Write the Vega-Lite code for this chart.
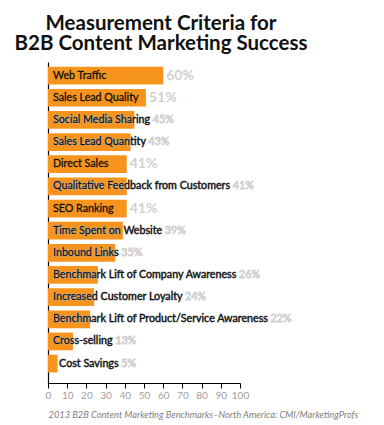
{
  "$schema": "https://vega.github.io/schema/vega-lite/v6.json",
  "width": 192,
  "height": 321,
  "autosize": "none",
  "padding": {"left": 48, "top": 62, "right": 144, "bottom": 42},
  "background": "white",
  "title": {
    "text": ["Measurement Criteria for", "B2B Content Marketing Success"],
    "font": "Lato",
    "fontSize": 20.5,
    "fontWeight": "bold",
    "color": "#111111",
    "anchor": "middle",
    "frame": "group",
    "dx": 17,
    "offset": 8,
    "lineHeight": 20
  },
  "config": {
    "view": {"stroke": null},
    "axisX": {
      "labelOverlap": false,
      "labelFlush": false,
      "labelBound": false,
      "grid": false,
      "domainColor": "#000000",
      "domainWidth": 1.2,
      "tickColor": "#000000",
      "tickSize": 5,
      "labelColor": "#A0A0A0",
      "labelFont": "Lato",
      "labelFontSize": 10,
      "labelPadding": 2,
      "titleFont": "Lato",
      "titleFontSize": 9.3,
      "titleFontStyle": "italic",
      "titleFontWeight": "normal",
      "titleColor": "#808080",
      "titleAnchor": "start",
      "titleAlign": "left",
      "titleBaseline": "alphabetic",
      "titleX": 0,
      "titleY": 34
    }
  },
  "data": {
    "values": [
      {"label": "Web Traffic", "value": 60},
      {"label": "Sales Lead Quality", "value": 51},
      {"label": "Social Media Sharing", "value": 45},
      {"label": "Sales Lead Quantity", "value": 43},
      {"label": "Direct Sales", "value": 41},
      {"label": "Qualitative Feedback from Customers", "value": 41},
      {"label": "SEO Ranking", "value": 41},
      {"label": "Time Spent on Website", "value": 39},
      {"label": "Inbound Links", "value": 35},
      {"label": "Benchmark Lift of Company Awareness", "value": 26},
      {"label": "Increased Customer Loyalty", "value": 24},
      {"label": "Benchmark Lift of Product/Service Awareness", "value": 22},
      {"label": "Cross-selling", "value": 13},
      {"label": "Cost Savings", "value": 5}
    ]
  },
  "transform": [
    {"calculate": "datum.value + '%'", "as": "pct"},
    {"calculate": "datum.label + '  ' + datum.pct", "as": "combo"}
  ],
  "encoding": {
    "y": {
      "field": "label",
      "type": "nominal",
      "sort": null,
      "scale": {"paddingInner": 0.2, "paddingOuter": 0.345, "align": 0.31},
      "axis": {"labels": false, "ticks": false, "title": null, "domainColor": "#000000", "domainWidth": 1.2}
    }
  },
  "layer": [
    {
      "mark": {"type": "bar", "color": "#F7941D"},
      "encoding": {
        "x": {
          "field": "value",
          "type": "quantitative",
          "scale": {"domain": [0, 100], "nice": false},
          "axis": {"values": [0, 10, 20, 30, 40, 50, 60, 70, 80, 90, 100], "tickCount": 11, "labelOverlap": false, "title": "2013 B2B Content Marketing Benchmarks\u2013North America: CMI/MarketingProfs"}
        }
      }
    },
    {
      "transform": [{"filter": {"field": "label", "oneOf": ["Social Media Sharing", "Sales Lead Quantity", "Qualitative Feedback from Customers", "Time Spent on Website", "Inbound Links", "Benchmark Lift of Company Awareness", "Increased Customer Loyalty", "Benchmark Lift of Product/Service Awareness", "Cross-selling"]}}],
      "mark": {"type": "text", "align": "left", "dx": 5, "font": "Lato", "fontSize": 10.7, "color": "#D0D0D0", "stroke": "#D0D0D0", "strokeWidth": 0.8},
      "encoding": {"x": {"datum": 0, "type": "quantitative", "axis": {"values": [0, 10, 20, 30, 40, 50, 60, 70, 80, 90, 100], "tickCount": 11, "labelOverlap": false, "title": "2013 B2B Content Marketing Benchmarks\u2013North America: CMI/MarketingProfs"}}, "text": {"field": "combo"}}
    },
    {
      "transform": [{"filter": {"field": "label", "equal": "Cost Savings"}}],
      "mark": {"type": "text", "align": "left", "dx": 1.5, "font": "Lato", "fontSize": 10.7, "color": "#D0D0D0", "stroke": "#D0D0D0", "strokeWidth": 0.8},
      "encoding": {"x": {"field": "value", "type": "quantitative", "axis": {"values": [0, 10, 20, 30, 40, 50, 60, 70, 80, 90, 100], "tickCount": 11, "labelOverlap": false, "title": "2013 B2B Content Marketing Benchmarks\u2013North America: CMI/MarketingProfs"}}, "text": {"field": "combo"}}
    },
    {
      "transform": [{"filter": "datum.label != 'Cost Savings'"}],
      "mark": {"type": "text", "align": "left", "dx": 5, "font": "Lato", "fontSize": 10.7, "color": "#111111", "stroke": "#111111", "strokeWidth": 0.3},
      "encoding": {"x": {"datum": 0, "type": "quantitative", "axis": {"values": [0, 10, 20, 30, 40, 50, 60, 70, 80, 90, 100], "tickCount": 11, "labelOverlap": false, "title": "2013 B2B Content Marketing Benchmarks\u2013North America: CMI/MarketingProfs"}}, "text": {"field": "label"}}
    },
    {
      "transform": [{"filter": {"field": "label", "equal": "Cost Savings"}}],
      "mark": {"type": "text", "align": "left", "dx": 1.5, "font": "Lato", "fontSize": 10.7, "color": "#111111", "stroke": "#111111", "strokeWidth": 0.3},
      "encoding": {"x": {"field": "value", "type": "quantitative", "axis": {"values": [0, 10, 20, 30, 40, 50, 60, 70, 80, 90, 100], "tickCount": 11, "labelOverlap": false, "title": "2013 B2B Content Marketing Benchmarks\u2013North America: CMI/MarketingProfs"}}, "text": {"field": "label"}}
    },
    {
      "transform": [{"filter": {"field": "label", "oneOf": ["Web Traffic", "Sales Lead Quality", "Direct Sales", "SEO Ranking"]}}],
      "mark": {"type": "text", "align": "left", "dx": 3, "font": "Lato", "fontSize": 14, "fontWeight": "bold", "color": "#D0D0D0"},
      "encoding": {"x": {"field": "value", "type": "quantitative", "axis": {"values": [0, 10, 20, 30, 40, 50, 60, 70, 80, 90, 100], "tickCount": 11, "labelOverlap": false, "title": "2013 B2B Content Marketing Benchmarks\u2013North America: CMI/MarketingProfs"}}, "text": {"field": "pct"}}
    }
  ]
}
